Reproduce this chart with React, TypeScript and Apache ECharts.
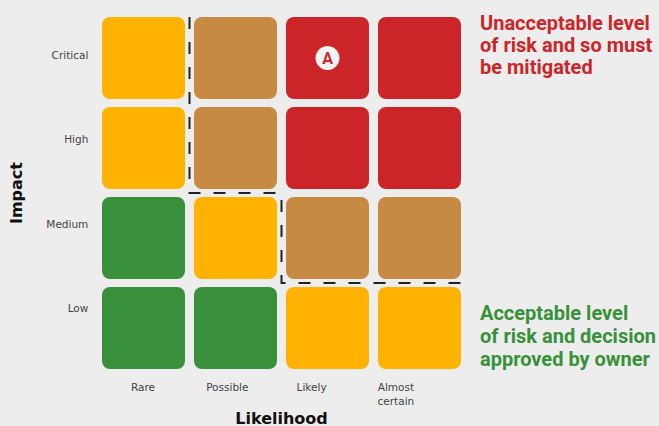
import React, { useEffect, useRef } from "react";
import * as echarts from "echarts";

const likelihood = ["Rare", "Possible", "Likely", "Almost\ncertain"];
const impact = ["Low", "Medium", "High", "Critical"];
// rows follow impact (Low -> Critical), columns follow likelihood
const riskLevel = [
  [0, 0, 1, 1],
  [0, 1, 2, 2],
  [1, 2, 3, 3],
  [1, 2, 3, 3],
];
const levelColors = ["#38913A", "#FFB300", "#C68A42", "#CC2529"];
// acceptance boundary as (likelihood, impact) grid corners
const boundary = [
  [1, 4],
  [1, 2],
  [2, 2],
  [2, 1],
  [4, 1],
];
const markers = [{ likelihood: 2, impact: 3, label: "A" }];
const unacceptableText = "Unacceptable level\nof risk and so must\nbe mitigated";
const acceptableText = "Acceptable level\nof risk and decision\napproved by owner";

export default function App() {
  const ref = useRef<HTMLDivElement>(null);
  useEffect(() => {
    if (!ref.current) return;
    const chart = echarts.init(ref.current, null, { renderer: "svg" });
    const cellData: number[][] = [];
    riskLevel.forEach((row, r) => row.forEach((lvl, c) => cellData.push([c, r, lvl])));
    const tickFont = { fontFamily: "DejaVu Sans", fontSize: 10.5, color: "#444" };
    const nameFont = { fontFamily: "DejaVu Sans", fontSize: 16, fontWeight: "bold" as const, color: "#111" };
    chart.setOption({
      animation: false,
      backgroundColor: "#EDEDED",
      grid: [
        { left: 97.5, top: 13, width: 368, height: 360, outerBoundsMode: "none", containLabel: false },
        { left: 100.85, top: 12.85, width: 337.2, height: 337.2, outerBoundsMode: "none", containLabel: false },
      ],
      xAxis: [
        {
          type: "value", gridIndex: 0, min: 0, max: 4,
          axisLine: { show: false }, axisTick: { show: false }, axisLabel: { show: false }, splitLine: { show: false },
          name: "Likelihood", nameLocation: "middle", nameGap: 37, nameTextStyle: nameFont,
        },
        {
          type: "category", gridIndex: 1, data: likelihood,
          axisLine: { show: false }, axisTick: { show: false }, splitLine: { show: false },
          axisLabel: { ...tickFont, interval: 0, margin: 30, lineHeight: 14, verticalAlign: "top" },
        },
      ],
      yAxis: [
        {
          type: "value", gridIndex: 0, min: 0, max: 4,
          axisLine: { show: false }, axisTick: { show: false }, axisLabel: { show: false }, splitLine: { show: false },
          name: "Impact", nameLocation: "middle", nameGap: 73, nameRotate: 90, nameTextStyle: nameFont,
        },
        {
          type: "category", gridIndex: 1, data: impact,
          axisLine: { show: false }, axisTick: { show: false }, splitLine: { show: false },
          axisLabel: { ...tickFont, interval: 0, margin: 12.5 },
        },
      ],
      series: [
        {
          type: "custom", xAxisIndex: 0, yAxisIndex: 0, data: cellData,
          encode: { x: 0, y: 1 },
          renderItem: (params: any, api: any) => {
            const c = api.value(0), r = api.value(1);
            const p = api.coord([c, r + 1]);
            const s = api.size([1, 1]);
            return {
              type: "rect",
              shape: { x: p[0] + 4.5, y: p[1] + 4, width: s[0] - 9, height: s[1] - 8, r: 8 },
              style: { fill: levelColors[api.value(2)] },
            };
          },
        },
        {
          type: "custom", xAxisIndex: 0, yAxisIndex: 0, data: [[0, 0]],
          encode: { x: 0, y: 1 }, z: 5,
          renderItem: (params: any, api: any) => {
            const pts = boundary.map((b) => api.coord(b));
            pts[0] = [pts[0][0], pts[0][1] + 4];
            const l = pts.length - 1;
            pts[l] = [pts[l][0] - 4.5, pts[l][1]];
            return {
              type: "polyline",
              shape: { points: pts },
              style: { stroke: "#222", lineWidth: 2, lineDash: [12, 13], fill: null },
            };
          },
        },
        {
          type: "scatter", xAxisIndex: 0, yAxisIndex: 0, z: 6,
          data: markers.map((m) => ({ value: [m.likelihood + 0.5, m.impact + 0.5], name: m.label })),
          symbol: "circle", symbolSize: 24,
          itemStyle: { color: "#F2F2F2", opacity: 1 },
          label: {
            show: true, position: "inside", formatter: "{b}",
            color: "#CC2529", fontWeight: "bold", fontSize: 16, fontFamily: "Roboto",
          },
        },
      ],
      graphic: [
        {
          type: "text", left: 480, top: 12,
          style: { text: unacceptableText, fill: "#CC2529", font: "bold 20px Roboto", lineHeight: 22 },
        },
        {
          type: "text", left: 480, top: 301.5,
          style: { text: acceptableText, fill: "#38913A", font: "bold 20px Roboto", lineHeight: 23 },
        },
      ],
    });
    return () => chart.dispose();
  }, []);
  return (
    <div
      ref={ref}
      style={{ position: "fixed", left: 0, top: 0, width: 659, height: 426 }}
    />
  );
}
